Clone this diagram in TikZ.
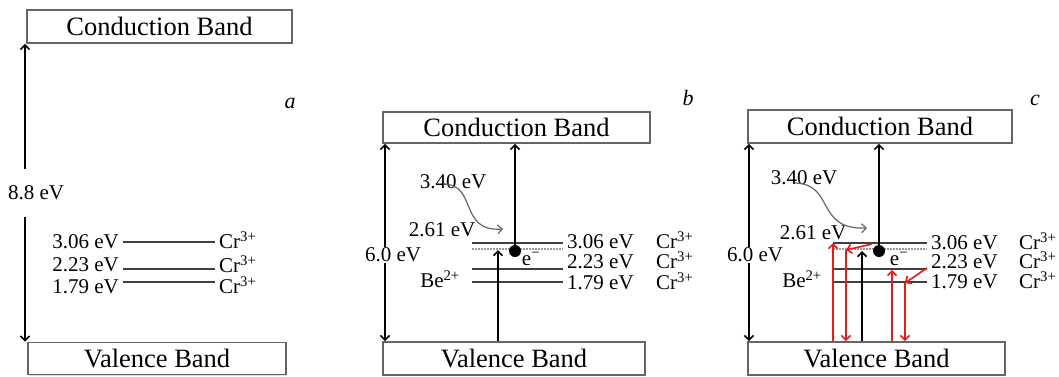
\documentclass[tikz,border=0pt]{standalone}
\usepackage{fontspec}
\setmainfont{Liberation Serif}
\usetikzlibrary{arrows.meta,calc,shadows}
\definecolor{redarr}{RGB}{228,28,28}
\tikzset{
  >={Straight Barb[length=4.5pt,width=9pt]},
  band/.style={draw=black!60, line width=1.8pt, fill=white, inner sep=0pt,
    drop shadow={shadow xshift=1.2pt, shadow yshift=-1.2pt, opacity=0.25},
    font=\fontsize{26.5}{28}\selectfont},
  lvl/.style={draw=black!75, line width=1.3pt},
  dlvl/.style={draw=black!40, line width=1.1pt, dash pattern=on 2pt off 1pt},
  lab/.style={font=\fontsize{21}{23}\selectfont, inner sep=1pt},
  panel/.style={font=\fontsize{22}{24}\selectfont\itshape, inner sep=0pt},
  arr/.style={line width=1.6pt, ->},
  darr/.style={line width=1.6pt, <->},
  rarr/.style={line width=1.6pt, draw=redarr, ->},
  garr/.style={draw=black!60, line width=1.2pt, ->},
  dot/.style={circle, fill=black, minimum size=12pt, inner sep=0pt}
}
\begin{document}
\begin{tikzpicture}[x=1pt,y=-1pt]
\useasboundingbox (0,0) rectangle (1059,376);
% ---------------- panel a ----------------
\node[band, minimum width=265pt, minimum height=33pt] (ca) at (159.5,26.5) {Conduction Band};
\node[band, minimum width=258pt, minimum height=32pt] (va) at (157,358.5) {Valence Band};
\coordinate (axA) at (25,0);
\node[lab, minimum height=47pt] (e88) at (36,193) {8.8 eV};
\draw[arr] (e88.north -| axA) -- (ca.south -| axA);
\draw[arr] (e88.south -| axA) -- (va.north -| axA);
\coordinate (a1L) at (123,242); \coordinate (a1R) at (215,242);
\coordinate (a2L) at (123,269); \coordinate (a2R) at (215,269);
\coordinate (a3L) at (123,282); \coordinate (a3R) at (215,282);
\draw[lvl] (a1L) -- (a1R);
\draw[lvl] (a2L) -- (a2R);
\draw[lvl] (a3L) -- (a3R);
\node[lab, anchor=east] (la1) at (120,242) {3.06 eV};
\node[lab, anchor=east] (la2) at (120,265) {2.23 eV};
\node[lab, anchor=east] (la3) at (120,287) {1.79 eV};
\node[lab, anchor=west] (cra1) at (218,240) {Cr\textsuperscript{3+}};
\node[lab, anchor=west] (cra2) at (218,264) {Cr\textsuperscript{3+}};
\node[lab, anchor=west] (cra3) at (218,285) {Cr\textsuperscript{3+}};
\node[panel] (pa) at (290,103) {a};
% ---------------- panel b ----------------
\node[band, minimum width=267pt, minimum height=31pt] (cb) at (516.5,127.5) {Conduction Band};
\node[band, minimum width=262pt, minimum height=33pt] (vb) at (514,358.5) {Valence Band};
\coordinate (bx) at (385,0);
\draw[darr] (cb.south -| bx) -- (vb.north -| bx);
\node[lab, fill=white] (e60b) at (393,255) {6.0 eV};
\coordinate (b1L) at (472,243); \coordinate (b1R) at (563,243);
\coordinate (bdL) at (472,249); \coordinate (bdR) at (563,249);
\coordinate (b2L) at (472,269); \coordinate (b2R) at (563,269);
\coordinate (b3L) at (472,282); \coordinate (b3R) at (563,282);
\draw[lvl] (b1L) -- (b1R);
\draw[dlvl] (bdL) -- (bdR);
\draw[lvl] (b2L) -- (b2R);
\draw[lvl] (b3L) -- (b3R);
\coordinate (bup) at (498,250);
\draw[arr] (vb.north -| bup) -- (bup);
\node[dot] (dotb) at (515,251) {};
\draw[arr] (dotb.center) -- (cb.south -| dotb);
\node[lab] (b340) at (453,182) {3.40 eV};
\node[lab] (b261) at (442,230) {2.61 eV};
\coordinate (bcs) at (443,184);
\coordinate (bce) at (503,229);
\draw[garr] (bcs) .. controls (478,184) and (458,232) .. (bce);
\node[lab, anchor=west] (lb1) at (566,242) {3.06 eV};
\node[lab, anchor=west] (lb2) at (566,262) {2.23 eV};
\node[lab, anchor=west] (lb3) at (566,283) {1.79 eV};
\node[lab, anchor=west] (crb1) at (655,240) {Cr\textsuperscript{3+}};
\node[lab, anchor=west] (crb2) at (655,260) {Cr\textsuperscript{3+}};
\node[lab, anchor=west] (crb3) at (655,281) {Cr\textsuperscript{3+}};
\node[lab] (eb) at (531,259) {e\textsuperscript{−}};
\node[lab] (beb) at (440,279) {Be\textsuperscript{2+}};
\node[panel] (pb) at (688,98) {b};
% ---------------- panel c ----------------
\node[band, minimum width=264pt, minimum height=33pt] (cc) at (880,126.5) {Conduction Band};
\node[band, minimum width=257pt, minimum height=33pt] (vc) at (876.5,358.5) {Valence Band};
\coordinate (cxa) at (749,0);
\draw[darr] (cc.south -| cxa) -- (vc.north -| cxa);
\node[lab, fill=white] (e60c) at (755,255) {6.0 eV};
\coordinate (c1L) at (833,243); \coordinate (c1R) at (927,243);
\coordinate (cdL) at (833,249); \coordinate (cdR) at (927,249);
\coordinate (c2L) at (833,269); \coordinate (c2R) at (927,269);
\coordinate (c3L) at (833,282); \coordinate (c3R) at (927,282);
\draw[lvl] (c1L) -- (c1R);
\draw[dlvl] (cdL) -- (cdR);
\draw[lvl] (c2L) -- (c2R);
\draw[lvl] (c3L) -- (c3R);
\node[dot] (dotc) at (879,251) {};
\draw[arr] (dotc.center) -- (cc.south -| dotc);
\coordinate (cup) at (862,251);
\draw[arr] (vc.north -| cup) -- (cup);
% red transitions
\coordinate (r1) at (833,243);
\draw[rarr] (vc.north -| r1) -- (r1);
\coordinate (r2s) at (872,244);
\coordinate (r2t) at (846,250);
\draw[rarr] (r2s) -- (r2t);
\draw[rarr] (r2t) -- (vc.north -| r2t);
\coordinate (r3) at (892,270);
\draw[rarr] (vc.north -| r3) -- (r3);
\coordinate (r4s) at (927,268);
\coordinate (r4t) at (905,283);
\draw[rarr] (r4s) -- (r4t);
\draw[rarr] (r4t) -- (vc.north -| r4t);
\node[lab] (c340) at (804,178) {3.40 eV};
\node[lab] (c261) at (813,233) {2.61 eV};
\coordinate (ccs) at (795,183);
\coordinate (cce) at (867,228);
\draw[garr] (ccs) .. controls (835,184) and (815,230) .. (cce);
\node[lab, anchor=west] (lc1) at (930,243) {3.06 eV};
\node[lab, anchor=west] (lc2) at (930,262) {2.23 eV};
\node[lab, anchor=west] (lc3) at (930,282) {1.79 eV};
\node[lab, anchor=west] (crc1) at (1018,241) {Cr\textsuperscript{3+}};
\node[lab, anchor=west] (crc2) at (1018,260) {Cr\textsuperscript{3+}};
\node[lab, anchor=west] (crc3) at (1018,280) {Cr\textsuperscript{3+}};
\node[lab] (ec) at (899,259) {e\textsuperscript{−}};
\node[lab] (bec) at (802,279) {Be\textsuperscript{2+}};
\node[panel] (pc) at (1035,100) {c};
\end{tikzpicture}
\end{document}
